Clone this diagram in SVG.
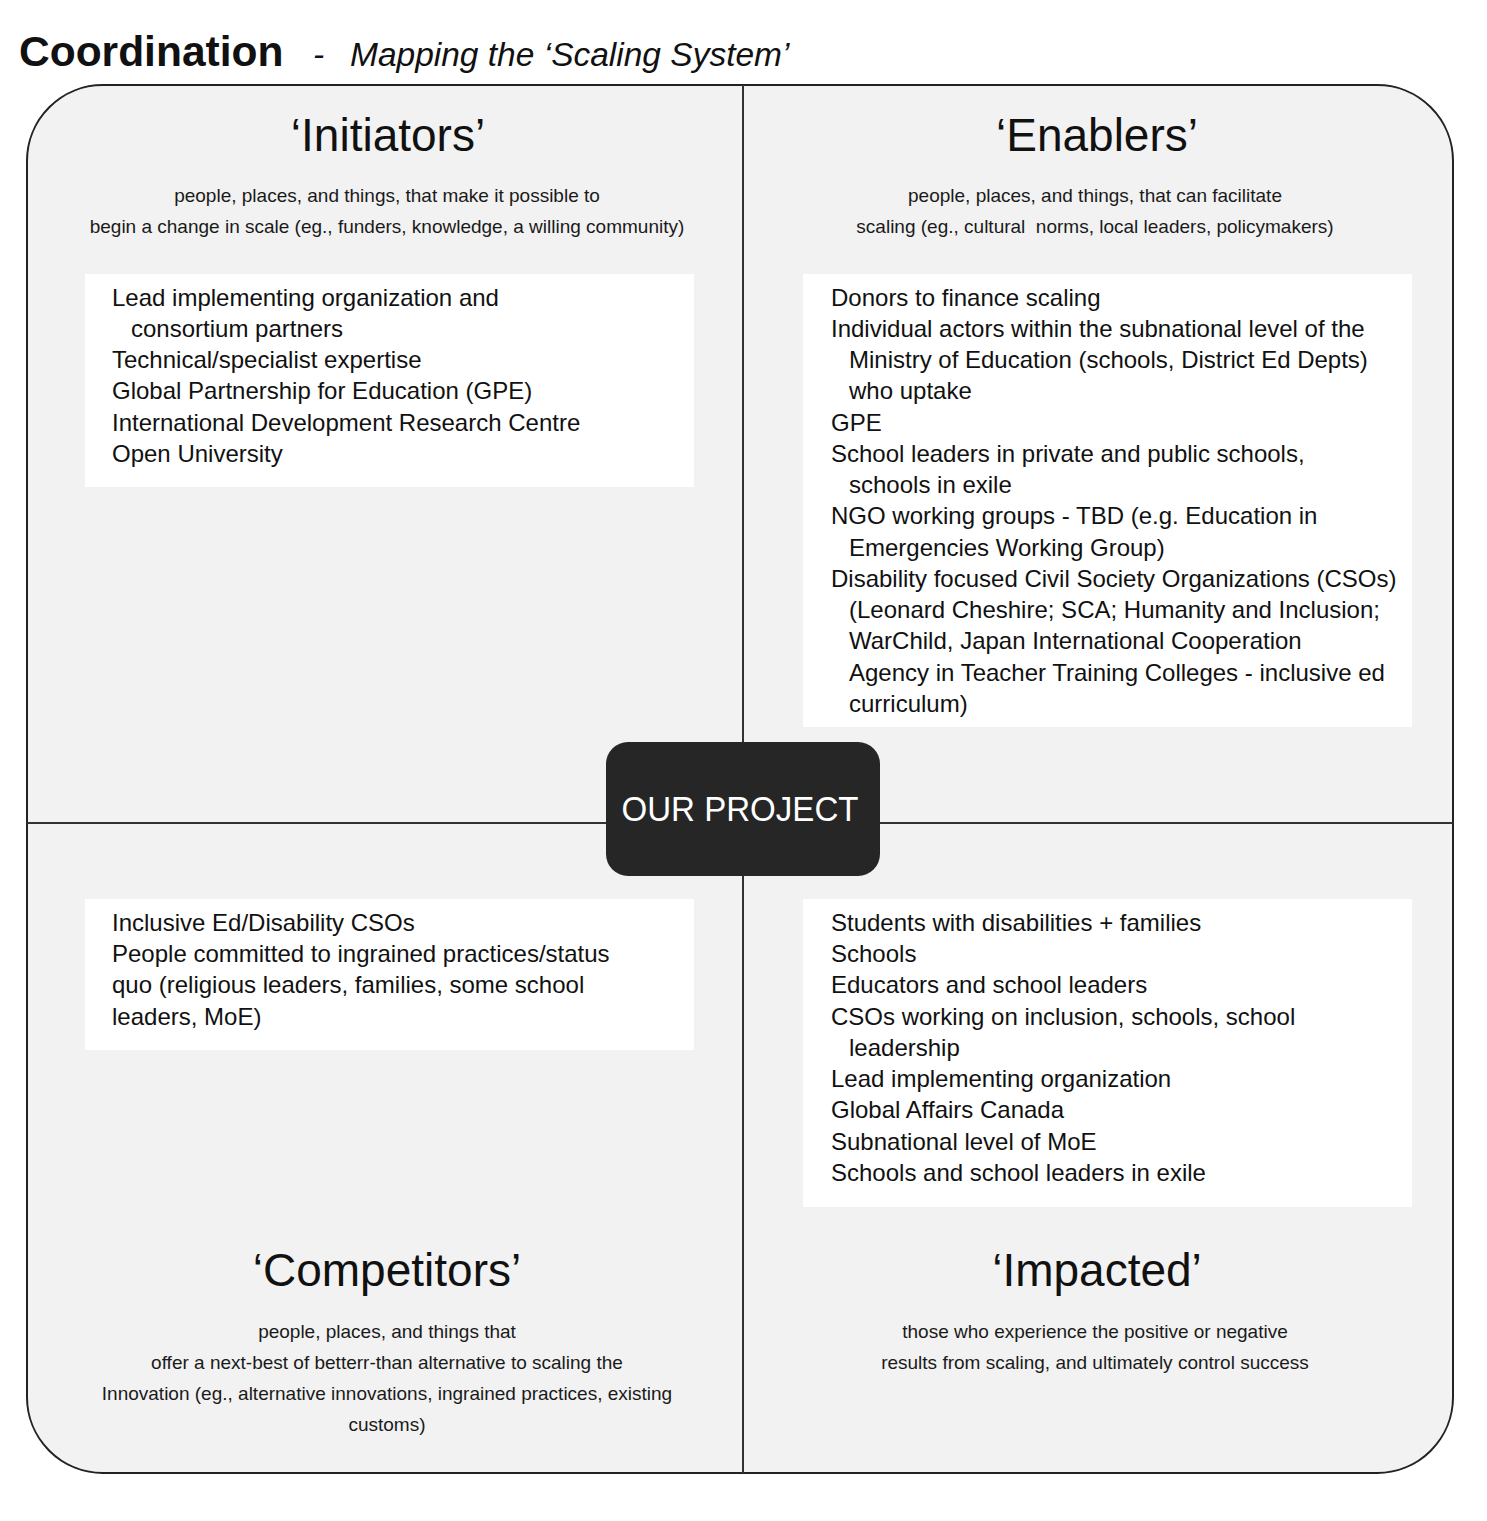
<svg xmlns="http://www.w3.org/2000/svg" width="1487" height="1521" viewBox="0 0 1487 1521">
<style>
text{font-family:"Liberation Sans",Arial,sans-serif;fill:#111}
.title{font-size:42.5px;font-weight:bold}
.sub{font-size:33.5px;font-style:italic}
.head{font-size:46px;text-anchor:middle}
.desc{font-size:19px;text-anchor:middle;fill:#1a1a1a}
.body{font-size:24px}
.box{fill:#ffffff}
.proj{font-size:35px;fill:#ffffff;text-anchor:middle}
</style>
<rect width="1487" height="1521" fill="#ffffff"/>
<g id="title">
<text class="title" x="19" y="66">Coordination</text>
<text class="sub" x="313" y="66">-</text>
<text class="sub" x="350" y="66">Mapping the ‘Scaling System’</text>
</g>
<g id="frame">
<rect x="27" y="85" width="1426" height="1388" rx="76" ry="76" fill="#f2f2f2" stroke="#222" stroke-width="2"/>
</g>
<g id="connectors" stroke="#333" stroke-width="2">
<line x1="743" y1="85" x2="743" y2="1473"/>
<line x1="27" y1="823" x2="1453" y2="823"/>
</g>
<g id="initiators">
<text class="head" x="388" y="151">‘Initiators’</text>
<text class="desc" x="387" y="202">people, places, and things, that make it possible to</text>
<text class="desc" x="387" y="233">begin a change in scale (eg., funders, knowledge, a willing community)</text>
<rect class="box" x="85" y="274" width="609" height="213"/>
<text class="body" x="112" y="306">Lead implementing organization and</text>
<text class="body" x="131" y="337">consortium partners</text>
<text class="body" x="112" y="368">Technical/specialist expertise</text>
<text class="body" x="112" y="399">Global Partnership for Education (GPE)</text>
<text class="body" x="112" y="431">International Development Research Centre</text>
<text class="body" x="112" y="462">Open University</text>
</g>
<g id="enablers">
<text class="head" x="1097" y="151">‘Enablers’</text>
<text class="desc" x="1095" y="202">people, places, and things, that can facilitate</text>
<text class="desc" x="1095" y="233" xml:space="preserve">scaling (eg., cultural  norms, local leaders, policymakers)</text>
<rect class="box" x="803" y="274" width="609" height="453"/>
<text class="body" x="831" y="306">Donors to finance scaling</text>
<text class="body" x="831" y="337">Individual actors within the subnational level of the</text>
<text class="body" x="849" y="368">Ministry of Education (schools, District Ed Depts)</text>
<text class="body" x="849" y="399">who uptake</text>
<text class="body" x="831" y="431">GPE</text>
<text class="body" x="831" y="462">School leaders in private and public schools,</text>
<text class="body" x="849" y="493">schools in exile</text>
<text class="body" x="831" y="524">NGO working groups - TBD (e.g. Education in</text>
<text class="body" x="849" y="556">Emergencies Working Group)</text>
<text class="body" x="831" y="587">Disability focused Civil Society Organizations (CSOs)</text>
<text class="body" x="849" y="618">(Leonard Cheshire; SCA; Humanity and Inclusion;</text>
<text class="body" x="849" y="649">WarChild, Japan International Cooperation</text>
<text class="body" x="849" y="681">Agency in Teacher Training Colleges - inclusive ed</text>
<text class="body" x="849" y="712">curriculum)</text>
</g>
<g id="competitors">
<rect class="box" x="85" y="899" width="609" height="151"/>
<text class="body" x="112" y="931">Inclusive Ed/Disability CSOs</text>
<text class="body" x="112" y="962">People committed to ingrained practices/status</text>
<text class="body" x="112" y="993">quo (religious leaders, families, some school</text>
<text class="body" x="112" y="1025">leaders, MoE)</text>
<text class="head" x="387" y="1286">‘Competitors’</text>
<text class="desc" x="387" y="1338">people, places, and things that</text>
<text class="desc" x="387" y="1369">offer a next-best of betterr-than alternative to scaling the</text>
<text class="desc" x="387" y="1400">Innovation (eg., alternative innovations, ingrained practices, existing</text>
<text class="desc" x="387" y="1431">customs)</text>
</g>
<g id="impacted">
<rect class="box" x="803" y="899" width="609" height="308"/>
<text class="body" x="831" y="931">Students with disabilities + families</text>
<text class="body" x="831" y="962">Schools</text>
<text class="body" x="831" y="993">Educators and school leaders</text>
<text class="body" x="831" y="1025">CSOs working on inclusion, schools, school</text>
<text class="body" x="849" y="1056">leadership</text>
<text class="body" x="831" y="1087">Lead implementing organization</text>
<text class="body" x="831" y="1118">Global Affairs Canada</text>
<text class="body" x="831" y="1150">Subnational level of MoE</text>
<text class="body" x="831" y="1181">Schools and school leaders in exile</text>
<text class="head" x="1097" y="1286">‘Impacted’</text>
<text class="desc" x="1095" y="1338">those who experience the positive or negative</text>
<text class="desc" x="1095" y="1369">results from scaling, and ultimately control success</text>
</g>
<g id="our-project">
<rect x="606" y="742" width="274" height="134" rx="22" ry="22" fill="#262626"/>
<text class="proj" x="740" y="821" textLength="237" lengthAdjust="spacingAndGlyphs">OUR PROJECT</text>
</g>
</svg>
